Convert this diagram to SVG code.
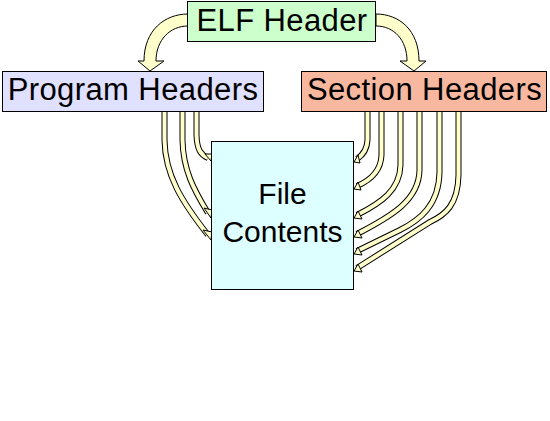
<svg xmlns="http://www.w3.org/2000/svg" width="550" height="421" viewBox="0 0 550 421">
<style>
.box{stroke:#000;stroke-width:1}
.lbl{font-family:"Liberation Sans",Arial,sans-serif;font-size:30px;fill:#000;text-anchor:middle}
.hdr{font-size:31px;letter-spacing:0.4px}
.big{fill:#ffffcc;stroke:#000;stroke-width:1}
.edge{fill:none;stroke:#000;stroke-width:6}
.core{fill:none;stroke:#ffffcc;stroke-width:4}
.tip{fill:#ffffcc;stroke:#000;stroke-width:1}
</style>
<rect width="550" height="421" fill="#fff"/>
<g id="connectors">
<path class="big" d="M188,14 C165,14 144,30 144,61 L138,61 L150,71 L164,61 L156,61 C156,40 170,26 188,26 Z"/>
<path class="big" d="M376,14 C399,14 419,30 419,61 L426,61 L414,71 L400,61 L407,61 C407,40 394,26 376,26 Z"/>
<g id="thin">
<path class="edge" d="M164.5,111 L164.5,140 C165,175 182,202 208,235"/>
<path class="edge" d="M182.5,111 L182.5,140 C183,170 194,190 208,213"/>
<path class="edge" d="M196.5,111 L196.5,135 C197,150 201,155 208,158"/>
<path class="edge" d="M367.5,111 L367.5,140 C367,150 363,155 357,159"/>
<path class="edge" d="M381.5,111 L381.5,155 C381,170 371,180 357,186"/>
<path class="edge" d="M400.5,111 L400.5,165 C400,190 381,203 357,215"/>
<path class="edge" d="M419.5,111 L419.5,170 C419,200 392,216 357,234"/>
<path class="edge" d="M439.5,111 L439.5,172 C439,205 420,220 400,230 L357,251"/>
<path class="edge" d="M458.5,111 L458.5,175 C458,205 445,215 430,222 L357,268"/>
<path class="core" d="M164.5,111 L164.5,140 C165,175 182,202 208,235"/>
<path class="core" d="M182.5,111 L182.5,140 C183,170 194,190 208,213"/>
<path class="core" d="M196.5,111 L196.5,135 C197,150 201,155 208,158"/>
<path class="core" d="M367.5,111 L367.5,140 C367,150 363,155 357,159"/>
<path class="core" d="M381.5,111 L381.5,155 C381,170 371,180 357,186"/>
<path class="core" d="M400.5,111 L400.5,165 C400,190 381,203 357,215"/>
<path class="core" d="M419.5,111 L419.5,170 C419,200 392,216 357,234"/>
<path class="core" d="M439.5,111 L439.5,172 C439,205 420,220 400,230 L357,251"/>
<path class="core" d="M458.5,111 L458.5,175 C458,205 445,215 430,222 L357,268"/>
<path class="tip" d="M203,230 L211,240 L212,232 Z"/>
<path class="tip" d="M204,208 L211,218 L212,210 Z"/>
<path class="tip" d="M205,154 L211,161 L212,154 Z"/>
<path class="tip" d="M358,155 L354,162 L360,163 Z"/>
<path class="tip" d="M358,182 L354,189 L361,190 Z"/>
<path class="tip" d="M358,211 L354,218 L362,219 Z"/>
<path class="tip" d="M358,230 L354,237 L362,238 Z"/>
<path class="tip" d="M358,247 L354,254 L362,255 Z"/>
<path class="tip" d="M358,264 L354,271 L362,272 Z"/>
</g>
</g>
<g id="elf">
<rect class="box" x="187.5" y="1.5" width="188" height="40" fill="#ccffcc"/>
<text class="lbl hdr" x="282" y="31">ELF Header</text>
</g>
<g id="program">
<rect class="box" x="2.5" y="71.5" width="261" height="40" fill="#e0e0ff"/>
<text class="lbl hdr" x="133" y="100">Program Headers</text>
</g>
<g id="section">
<rect class="box" x="301.5" y="71.5" width="245" height="40" fill="#f8b8a0"/>
<text class="lbl hdr" x="424.5" y="100">Section Headers</text>
</g>
<g id="contents">
<rect class="box" x="211.5" y="141.5" width="142" height="148" fill="#ddffff"/>
<text class="lbl" x="282.5" y="204">File</text>
<text class="lbl" x="282.5" y="242">Contents</text>
</g>
</svg>
